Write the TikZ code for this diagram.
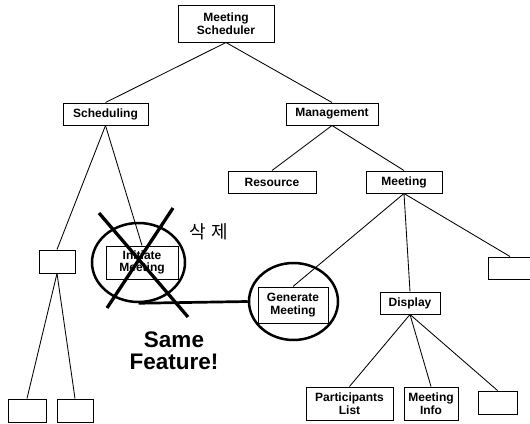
\documentclass[tikz,border=0pt]{standalone}
\usepackage{fontspec}
\setmainfont{Liberation Sans}
\newfontfamily\krfont{Noto Sans CJK KR}
\usetikzlibrary{shapes.geometric}

\tikzset{
  fbox/.style={draw, line width=1pt, inner sep=0pt, align=center,
    font=\fontsize{12}{12.8}\selectfont\bfseries},
  link/.style={line width=0.85pt},
  ring/.style={draw, ellipse, line width=2.5pt, inner sep=0pt},
  cross/.style={line width=3.3pt},
  bond/.style={line width=2.7pt}
}

\begin{document}
\begin{tikzpicture}[x=1pt, y=-1pt]
\useasboundingbox (0,0) rectangle (530,423);

% feature tree
\node[fbox, minimum width=96pt, minimum height=37pt] (root) at (226,23.5) {Meeting\\Scheduler};
\node[fbox, minimum width=85pt, minimum height=22pt] (sched) at (105.5,114) {Scheduling};
\node[fbox, minimum width=92pt, minimum height=22pt] (mgmt) at (332,114) {Management};
\node[fbox, minimum width=88pt, minimum height=22pt] (res) at (272,182) {Resource};
\node[fbox, minimum width=76pt, minimum height=22pt] (meet) at (404,182) {Meeting};

\node[fbox, minimum width=36pt, minimum height=23pt] (lmid) at (57,261.5) {};
\node[fbox, minimum width=38pt, minimum height=23pt] (lb1) at (27,410.5) {};
\node[fbox, minimum width=36pt, minimum height=23pt] (lb2) at (75,410.5) {};

\node[fbox, minimum width=72pt, minimum height=33pt] (init) at (142,262.5) {Initiate\\Meeting};
\node[fbox, minimum width=70pt, minimum height=36pt] (gen) at (293,305) {Generate\\Meeting};
\node[fbox, minimum width=60pt, minimum height=22pt] (disp) at (410,303) {Display};
\node[fbox, minimum width=44pt, minimum height=22pt] (rbox) at (510,268) {};

\node[fbox, minimum width=87pt, minimum height=33pt] (part) at (349.5,403.5) {Participants\\List};
\node[fbox, minimum width=54pt, minimum height=33pt] (info) at (431,403.5) {Meeting\\Info};
\node[fbox, minimum width=39pt, minimum height=23pt] (sbox) at (497.5,402.5) {};

\draw[link] (root.south) -- (sched.north);
\draw[link] (root.south) -- (mgmt.north);
\draw[link] (sched.south) -- (lmid.north);
\draw[link] (sched.south) -- (init.north);
\draw[link] (lmid.south) -- (lb1.north);
\draw[link] (lmid.south) -- (lb2.north);
\draw[link] (mgmt.south) -- (res.north);
\draw[link] (mgmt.south) -- (meet.north);
\draw[link] (meet.south) -- (gen.north);
\draw[link] (meet.south) -- (disp.north);
\draw[link] (meet.south) -- (rbox.north);
\draw[link] (disp.south) -- (part.north);
\draw[link] (disp.south) -- (info.north);
\draw[link] (disp.south) -- (sbox.north);

% highlighted features and their link
\node[ring, minimum width=93pt, minimum height=79pt] (ic) at (138.5,262.5) {};
\node[ring, minimum width=89pt, minimum height=77pt] (gc) at (293.5,301.5) {};
\draw[bond] (ic.south) -- (gc.west);

% deletion mark
\coordinate (xa1) at (99,213);
\coordinate (xa2) at (188,317);
\coordinate (xb1) at (173,208);
\coordinate (xb2) at (107,308);
\draw[cross] (xa1) -- (xa2);
\draw[cross] (xb1) -- (xb2);

\node[font=\fontsize{18}{20}\selectfont\krfont, inner sep=0pt] (del) at (209,232) {삭\hspace{6pt}제};

\node[align=center, inner sep=0pt, font=\fontsize{22.5}{22}\selectfont\bfseries] (same) at (174,350.5) {Same\\Feature!};
\end{tikzpicture}
\end{document}
